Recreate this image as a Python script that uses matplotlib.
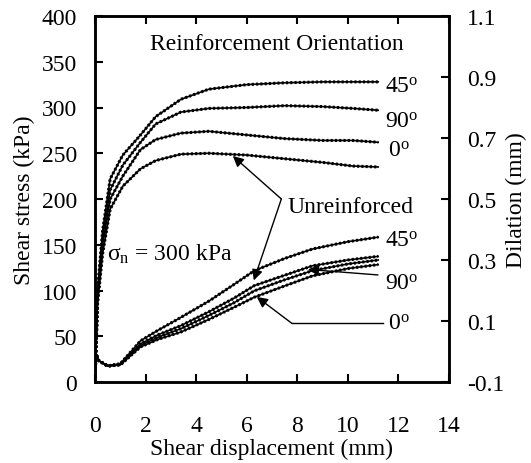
import numpy as np
import matplotlib
matplotlib.use('Agg')
import matplotlib.pyplot as plt

plt.rcParams['font.family'] = ['Liberation Serif', 'DejaVu Serif']
plt.rcParams['mathtext.fontset'] = 'custom'
plt.rcParams['mathtext.rm'] = 'Liberation Serif'
plt.rcParams['mathtext.it'] = 'Liberation Serif:italic'

# shear stress curves (left axis)
x_stress = [0, 0.1, 0.3, 0.6, 1.1, 1.8, 2.4, 3.4, 4.5, 6.0, 7.5, 9.0, 10.2, 11.2]
stress_45 = [0, 100, 165, 222, 248, 270, 290, 309, 320, 325, 327, 328, 328, 328]
stress_90 = [0, 95, 158, 210, 237, 262, 282, 295, 299, 300, 302, 301, 299, 297]
stress_0 = [0, 90, 150, 200, 225, 254, 265, 272, 274, 270, 266, 264, 264, 262]
stress_unr = [0, 85, 140, 189, 214, 233, 242, 249, 250, 248, 244, 240, 236, 235]

# dilation curves (right axis)
x_dil = [0, 0.15, 0.5, 1.0, 1.8, 2.5, 3.4, 4.5, 5.5, 6.3, 7.5, 8.6, 10.0, 11.2]
dil_45 = [0, -0.03, -0.047, -0.04, 0.035, 0.07, 0.112, 0.165, 0.22, 0.265, 0.305, 0.336, 0.36, 0.375]
dil_unr = [0, -0.03, -0.047, -0.042, 0.025, 0.055, 0.085, 0.13, 0.175, 0.216, 0.25, 0.281, 0.300, 0.312]
dil_90 = [0, -0.03, -0.048, -0.043, 0.02, 0.047, 0.075, 0.118, 0.16, 0.199, 0.235, 0.265, 0.287, 0.300]
dil_0 = [0, -0.03, -0.048, -0.044, 0.015, 0.04, 0.064, 0.105, 0.145, 0.178, 0.215, 0.248, 0.272, 0.285]

fs = 17


def dotted_curve(axis, x, y):
   axis.plot(x, y, color='black', lw=1.2, zorder=3)
   axis.plot(x, y, color='black', lw=2.2, ls=(0, (0.7, 0.7)), zorder=3)


fig = plt.figure(figsize=(5.31, 4.64), dpi=100)
ax = fig.add_axes([95/531, 1-383/464, 354/531, 366/464])
ax2 = ax.twinx()

for s in [stress_45, stress_90, stress_0, stress_unr]:
   dotted_curve(ax, x_stress, s)
for d in [dil_45, dil_unr, dil_90, dil_0]:
   dotted_curve(ax2, x_dil, d)

ax.set_xlim(0, 14)
ax.set_ylim(0, 400)
ax2.set_ylim(-0.1, 1.1)
ax.set_xticks(np.arange(0, 15, 2))
ax.set_yticks(np.arange(0, 401, 50))
ax2.set_yticks([-0.1, 0.1, 0.3, 0.5, 0.7, 0.9, 1.1])
ax2.set_yticklabels(['-0.1', '0.1', '0.3', '0.5', '0.7', '0.9', '1.1'])

for a in (ax, ax2):
   for sp in a.spines.values():
      sp.set_linewidth(1.8)
ax.tick_params(axis='x', direction='in', top=True, length=6, width=1.5, pad=24, labelsize=fs)
ax.tick_params(axis='y', direction='in', length=6, width=1.5, pad=13, labelsize=fs)
ax2.tick_params(axis='y', direction='in', length=6, width=1.5, pad=13, labelsize=fs)

ax.set_xlabel('Shear displacement (mm)', fontsize=fs, labelpad=1)
ax.set_ylabel('Shear stress (kPa)', fontsize=fs, labelpad=5)
ax2.set_ylabel('Dilation (mm)', fontsize=fs, labelpad=1)

# text labels
ax.text(2.17, 364, 'Reinforcement Orientation', fontsize=fs, ha='left', va='baseline')
ax.text(11.46, 317, r'45$^{\mathrm{o}}$', fontsize=fs, va='baseline')
ax.text(11.46, 279, r'90$^{\mathrm{o}}$', fontsize=fs, va='baseline')
ax.text(11.58, 247, r'0$^{\mathrm{o}}$', fontsize=fs, va='baseline')
ax.text(11.46, 149, r'45$^{\mathrm{o}}$', fontsize=fs, va='baseline')
ax.text(11.46, 102, r'90$^{\mathrm{o}}$', fontsize=fs, va='baseline')
ax.text(11.58, 58, r'0$^{\mathrm{o}}$', fontsize=fs, va='baseline')
ax.text(7.6, 186, 'Unreinforced', fontsize=fs, va='baseline')
ax.text(0.47, 134, r'$\mathrm{\sigma_{n}}$ = 300 kPa', fontsize=fs, va='baseline')

arw = dict(arrowstyle='-|>', color='black', lw=1.0, mutation_scale=16, shrinkA=0, shrinkB=0)
ax.annotate('', xy=(5.45, 247), xytext=(7.37, 200), arrowprops=arw)
ax.annotate('', xy=(6.28, 111), xytext=(7.37, 200), arrowprops=arw)
ax.annotate('', xy=(8.42, 123), xytext=(11.19, 117), arrowprops=arw)
ax.plot([11.38, 7.79], [64, 64], color='black', lw=1.0)
ax.annotate('', xy=(6.4, 93), xytext=(7.79, 64), arrowprops=arw)

fig.savefig('out.png', dpi=100)
